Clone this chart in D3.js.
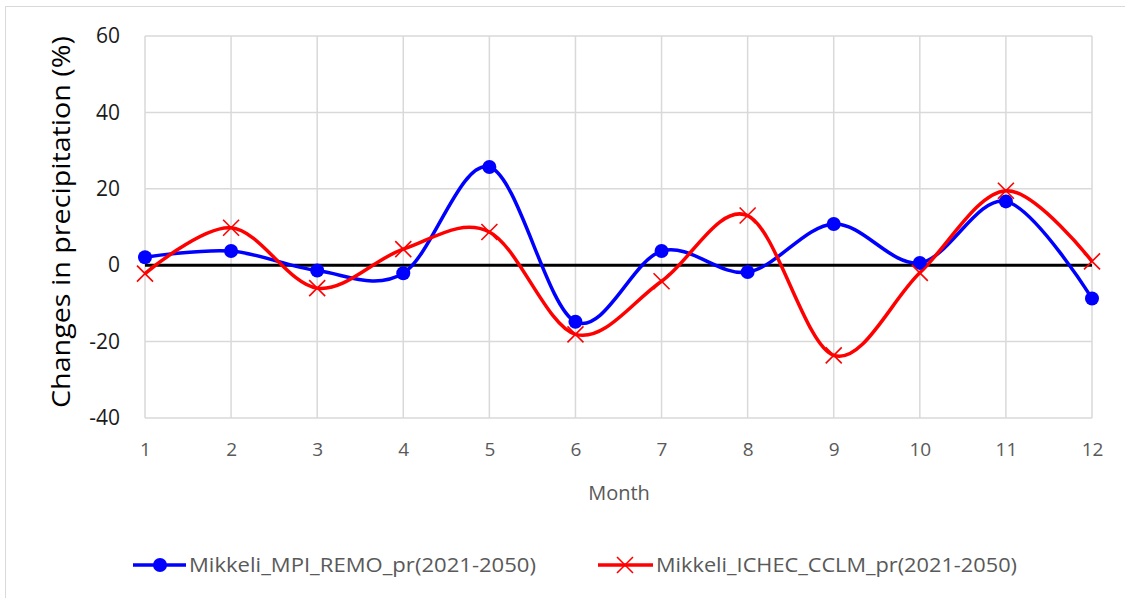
<!DOCTYPE html>
<html>
<head>
<meta charset="utf-8">
<script src="https://cdn.jsdelivr.net/npm/d3@7"></script>
<style>
  html, body { margin: 0; padding: 0; background: #fff; }
  svg { display: block; }
</style>
</head>
<body>
<svg id="chart" width="1125" height="598"></svg>
<script>
// Monthly change in precipitation, 2021-2050, Mikkeli
const months = [1, 2, 3, 4, 5, 6, 7, 8, 9, 10, 11, 12];
const mpiRemo = [2.1, 3.7, -1.4, -2.1, 25.7, -14.8, 3.7, -1.8, 10.8, 0.6, 16.7, -8.7];
const ichecCclm = [-2.2, 9.8, -6.0, 4.2, 8.7, -18.1, -4.2, 13.0, -23.6, -2.0, 19.5, 1.0];
const yTicks = [-40, -20, 0, 20, 40, 60];
const seriesNames = ["Mikkeli_MPI_REMO_pr(2021-2050)", "Mikkeli_ICHEC_CCLM_pr(2021-2050)"];

const svg = d3.select("#chart");
const font = "'Open Sans', 'Noto Sans', sans-serif";

// outer chart frame
svg.append("rect")
  .attr("x", 5.5).attr("y", 6.5)
  .attr("width", 1130).attr("height", 600)
  .attr("fill", "#fff").attr("stroke", "#d9d9d9").attr("stroke-width", 1);

const plot = { left: 145, right: 1092, top: 36, bottom: 418 };

const x = d3.scaleLinear().domain([1, 12]).range([plot.left, plot.right]);
const y = d3.scaleLinear().domain([-40, 60]).range([plot.bottom, plot.top]);

// gridlines
const grid = svg.append("g").attr("stroke", "#d9d9d9").attr("stroke-width", 1.5);
grid.selectAll("line.h").data(yTicks).join("line")
  .attr("x1", plot.left).attr("x2", plot.right)
  .attr("y1", d => y(d)).attr("y2", d => y(d));
grid.selectAll("line.v").data(months).join("line")
  .attr("y1", plot.top).attr("y2", plot.bottom)
  .attr("x1", d => x(d)).attr("x2", d => x(d));

// y axis labels (plain hyphen for negatives)
const yAxis = svg.append("g")
  .attr("transform", `translate(${plot.left - 25},0)`)
  .call(d3.axisLeft(y).tickValues(yTicks).tickFormat(d => String(d)).tickSize(0).tickPadding(0));
yAxis.select(".domain").remove();
yAxis.selectAll("text")
  .attr("font-family", font).attr("font-size", 21).attr("fill", "#1a1a1a");

// x axis labels
const xAxis = svg.append("g")
  .attr("transform", `translate(0,${plot.bottom + 24})`)
  .call(d3.axisBottom(x).tickValues(months).tickFormat(d => String(d)).tickSize(0).tickPadding(0));
xAxis.select(".domain").remove();
xAxis.selectAll("text")
  .attr("font-family", font).attr("font-size", 19).attr("fill", "#595959");

// zero reference line
svg.append("line")
  .attr("x1", plot.left).attr("x2", plot.right)
  .attr("y1", y(0)).attr("y2", y(0))
  .attr("stroke", "#000").attr("stroke-width", 3);

// axis titles
svg.append("text")
  .attr("x", 619).attr("y", 500)
  .attr("text-anchor", "middle")
  .attr("font-family", font).attr("font-size", 20).attr("fill", "#595959")
  .text("Month");

svg.append("text")
  .attr("transform", `translate(70,222) rotate(-90)`)
  .attr("text-anchor", "middle")
  .attr("font-family", font).attr("font-size", 26).attr("fill", "#000")
  .attr("textLength", 372).attr("lengthAdjust", "spacingAndGlyphs")
  .text("Changes in precipitation (%)");

// smoothed series lines
const line = d3.line()
  .x((d, i) => x(months[i]))
  .y(d => y(d))
  .curve(d3.curveCardinal.tension(0));

svg.append("path").datum(mpiRemo)
  .attr("d", line).attr("fill", "none")
  .attr("stroke", "#0000ff").attr("stroke-width", 3.5);

svg.append("path").datum(ichecCclm)
  .attr("d", line).attr("fill", "none")
  .attr("stroke", "#ff0000").attr("stroke-width", 3.5);

// markers
svg.append("g").selectAll("circle").data(mpiRemo).join("circle")
  .attr("cx", (d, i) => x(months[i])).attr("cy", d => y(d))
  .attr("r", 7).attr("fill", "#0000ff");

const cross = (cx, cy, s) => `M${cx - s},${cy - s}L${cx + s},${cy + s}M${cx - s},${cy + s}L${cx + s},${cy - s}`;
svg.append("g").selectAll("path").data(ichecCclm).join("path")
  .attr("d", (d, i) => cross(x(months[i]), y(d), 8))
  .attr("stroke", "#ff0000").attr("stroke-width", 1.6).attr("fill", "none");

// legend
const legendY = 565;
const leg = svg.append("g");
leg.append("line").attr("x1", 133).attr("x2", 186).attr("y1", legendY).attr("y2", legendY)
  .attr("stroke", "#0000ff").attr("stroke-width", 3.5);
leg.append("circle").attr("cx", 160).attr("cy", legendY).attr("r", 7).attr("fill", "#0000ff");
leg.append("text").attr("x", 189).attr("y", legendY + 7)
  .attr("font-family", font).attr("font-size", 20).attr("fill", "#595959")
  .attr("textLength", 347).attr("lengthAdjust", "spacingAndGlyphs")
  .text(seriesNames[0]);

leg.append("line").attr("x1", 598).attr("x2", 653).attr("y1", legendY).attr("y2", legendY)
  .attr("stroke", "#ff0000").attr("stroke-width", 3.5);
leg.append("path").attr("d", cross(625, legendY, 8))
  .attr("stroke", "#ff0000").attr("stroke-width", 1.6).attr("fill", "none");
leg.append("text").attr("x", 656).attr("y", legendY + 7)
  .attr("font-family", font).attr("font-size", 20).attr("fill", "#595959")
  .attr("textLength", 361).attr("lengthAdjust", "spacingAndGlyphs")
  .text(seriesNames[1]);
</script>
</body>
</html>
